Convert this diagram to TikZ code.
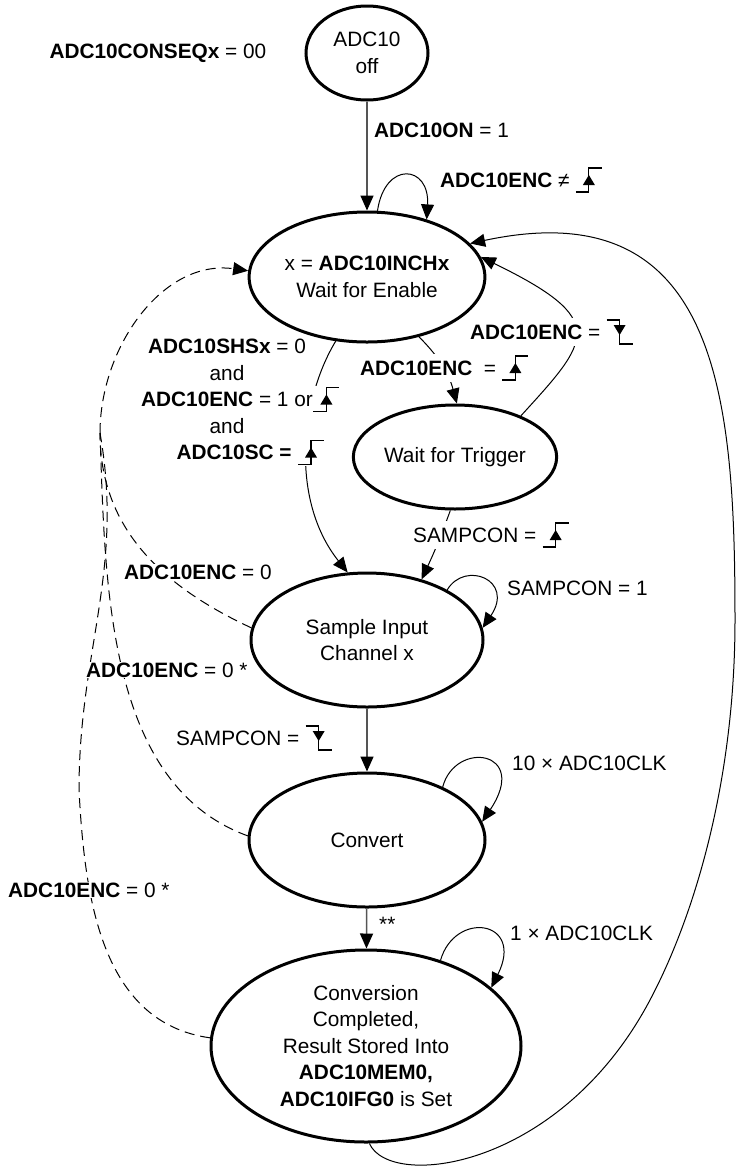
\documentclass[tikz,border=0pt]{standalone}
\usepackage{fontspec}
\setmainfont{Liberation Sans}
\usetikzlibrary{shapes.geometric,arrows.meta}

% Edge symbols
\newcommand{\riseEdge}{\tikz[baseline=5pt,x=1pt,y=1pt]{\draw[black,line width=1.2pt] (0,0) -- (13,0) -- (13,24) -- (26,24); \fill[black] (7,7) -- (19,7) -- (13,17) -- cycle;}}
\newcommand{\fallEdge}{\tikz[baseline=5pt,x=1pt,y=1pt]{\draw[black,line width=1.2pt] (0,24) -- (13,24) -- (13,0) -- (26,0); \fill[black] (7,19) -- (19,19) -- (13,9) -- cycle;}}

\begin{document}
\begin{tikzpicture}[x=1pt, y=1pt,
    font=\fontsize{20.8}{26.5}\selectfont,
    state/.style={ellipse, draw, line width=3pt, align=center, inner sep=1pt},
    trans/.style={line width=1pt, -{Triangle[length=15pt,width=13pt]}},
    main/.style={draw=lineGrey, line width=1.5pt, -{Triangle[length=15pt,width=13pt,black]}},
    back/.style={line width=1pt, dash pattern=on 10pt off 6pt},
    lbl/.style={anchor=west, inner sep=1pt, fill=white}]
    \definecolor{lineGrey}{HTML}{555555}

    \useasboundingbox (0,0) rectangle (737,-1168);

    % States
    \node[state, minimum width=122pt, minimum height=94pt] (off) at (367,-53) {ADC10\\off};
    \node[state, minimum width=234pt, minimum height=130pt] (enable) at (367,-277) {x = \textbf{ADC10INCHx}\\Wait for Enable};
    \node[state, minimum width=196pt, minimum height=104pt] (trig) at (455,-457) {Wait for Trigger};
    \node[state, minimum width=232pt, minimum height=134pt] (sample) at (367,-640) {Sample Input\\Channel x};
    \node[state, minimum width=236pt, minimum height=134pt] (conv) at (367,-840) {Convert};
    \node[state, minimum width=310pt, minimum height=192pt] (done) at (366,-1046) {Conversion\\Completed,\\Result Stored Into\\\textbf{ADC10MEM0,}\\\textbf{ADC10IFG0} is Set};

    \coordinate (hub) at (100,-433);
    \coordinate (dbend) at (79,-790);

    % Main flow
    \draw[main] (off) -- (enable);
    \draw[main] (sample) -- (conv);
    \draw[main] (conv) -- (done);
    \draw[trans] (enable.-49) to[out=-45,in=105] (trig.88);
    \draw[trans] (trig.32) .. controls (590,-340) and (610,-320) .. (enable.10);
    \draw[trans] (enable.-116) .. controls (300,-400) and (290,-500) .. (sample.106);
    \draw[trans] (trig.-95) to[out=-110,in=65] (sample.48);

    % Self loops
    \draw[trans] (enable.81) .. controls (385,-160) and (430,-165) .. (enable.44);
    \draw[trans] (sample.32) .. controls (465,-560) and (515,-580) .. (sample.6);
    \draw[trans] (conv.35) .. controls (455,-740) and (530,-750) .. (conv.9);
    \draw[trans] (done.49) .. controls (455,-910) and (525,-920) .. (done.25);

    % Back to Wait for Enable
    \draw[trans] (done.-88) .. controls (390,-1190) and (560,-1170) .. (650,-1000)
        .. controls (695,-915) and (735,-780) .. (735,-620)
        .. controls (735,-400) and (720,-190) .. (enable.18);
    \draw[back] (sample.174) to[out=155,in=-90] (hub);
    \draw[back] (conv.178) to[out=160,in=-88,looseness=0.9] (hub);
    \draw[back] (done.177) to[out=172,in=-87] (dbend) to[out=90,in=-80] (hub);
    \draw[back, -{Triangle[length=15pt,width=13pt]}] (hub) to[out=90,in=172] (enable.177);

    % Labels
    \node[anchor=west] (conseq) at (46,-53) {\textbf{ADC10CONSEQx} = 00};
    \node[lbl] (lOn) at (373,-130) {\textbf{ADC10ON} = 1};
    \node[lbl] (lNeq) at (439,-180) {\textbf{ADC10ENC}~≠~\riseEdge};
    \node[align=center] (lCondA) at (227,-360) {\textbf{ADC10SHSx} = 0\\and};
    \node[align=center, fill=white, inner ysep=1pt, inner xsep=20pt] (lCondB) at (227,-426)
        {\textbf{ADC10ENC} = 1 or\rlap{\riseEdge}\\and\\\hspace*{20pt}\textbf{ADC10SC =} \rlap{\riseEdge}};
    \node[lbl] (lEnRise) at (359,-368) {\textbf{ADC10ENC}\ \ = \riseEdge};
    \node[lbl] (lEnFall) at (469,-332) {\textbf{ADC10ENC} = \fallEdge};
    \node[lbl] (lSRise) at (412,-535) {SAMPCON = \riseEdge};
    \node[lbl] (lSOne) at (506,-588) {SAMPCON = 1};
    \node[lbl] (lEnc0) at (123,-572) {\textbf{ADC10ENC} = 0};
    \node[lbl] (lEnc0a) at (85,-670) {\textbf{ADC10ENC} = 0 *};
    \node[lbl] (lSFall) at (175,-738) {SAMPCON = \fallEdge};
    \node[lbl] (lClk10) at (511,-763) {10 × ADC10CLK};
    \node[lbl] (lEnc0b) at (7,-890) {\textbf{ADC10ENC} = 0 *};
    \node[lbl] (lStar) at (378,-924) {**};
    \node[lbl] (lClk1) at (509,-933) {1 × ADC10CLK};

\end{tikzpicture}
\end{document}
